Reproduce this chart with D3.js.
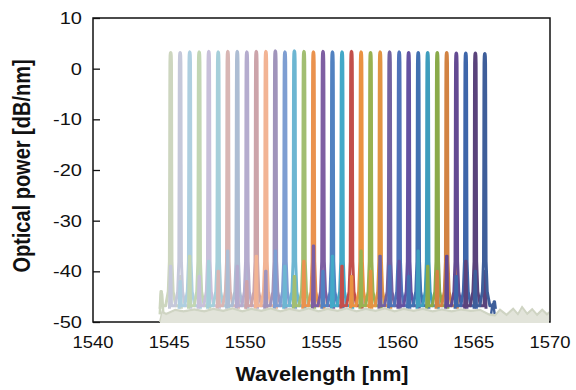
<!DOCTYPE html>
<html>
<head>
<meta charset="utf-8">
<script src="https://cdn.jsdelivr.net/npm/d3@7"></script>
<style>
  body { margin: 0; background: #fff; }
  text { font-family: "Liberation Sans", Arial, sans-serif; fill: #111; }
</style>
</head>
<body>
<div id="chart"></div>
<script>
// channel centre wavelengths [nm]
const centers = [1545.10, 1545.72, 1546.35, 1546.97, 1547.60, 1548.22, 1548.85, 1549.47,
  1550.10, 1550.72, 1551.35, 1551.97, 1552.60, 1553.22, 1553.85, 1554.47, 1555.10,
  1555.72, 1556.35, 1556.97, 1557.60, 1558.22, 1558.85, 1559.47, 1560.10, 1560.72,
  1561.35, 1561.97, 1562.60, 1563.22, 1563.85, 1564.47, 1565.10, 1565.72];
// peak power of each channel [dB/nm]
const peaks = [3.2, 3.2, 3.3, 3.3, 3.4, 3.3, 3.4, 3.4, 3.3, 3.4, 3.4, 3.5, 3.3, 3.5, 3.4, 3.3,
  3.4, 3.3, 3.3, 3.4, 3.3, 3.2, 3.3, 3.3, 3.3, 3.2, 3.2, 3.2, 3.2, 3.2, 3.1, 3.1, 3.1, 3.0];
// series colours, left to right
const colors = ["#cdd6bf", "#c5c8da", "#aecfe0", "#c2d6b4", "#c8c0da", "#a6cfda", "#d8b6b4",
  "#adbdd3", "#b5acce", "#cca4aa", "#f2b494", "#a094bb", "#7e9ed2", "#6db6d2", "#a2be72",
  "#ea924e", "#7e5fa2", "#5282c1", "#43a9c8", "#c24f4b", "#ea9242", "#99b252", "#e39443",
  "#7262a1", "#5073b9", "#6452a1", "#4271b1", "#3e9dbd", "#8aaa4a", "#d28343", "#634a92",
  "#3e66aa", "#5a437b", "#3e5e9a"];
// level of the crosstalk each channel leaves at its neighbours [dB/nm]
const crossLeft = [-44, -39, -42, -37, -41, -38, -40, -36, -39, -42, -37, -40, -36, -39, -41,
  -38, -35, -40, -37, -39, -41, -36, -40, -37, -39, -38, -41, -36, -39, -40, -37, -41, -38, -40];
const crossRight = [-41, -38, -36, -40, -37, -41, -39, -36, -40, -38, -39, -36, -41, -37, -35,
  -40, -39, -36, -41, -38, -40, -39, -36, -41, -38, -40, -39, -37, -40, -36, -41, -39, -40, -46];
// spectral shape of one channel: offset from centre [nm] and level [dB/nm]
// null = crosstalk level, main peak values are relative to the channel peak
const shapeOffset = [-0.70, -0.64, -0.61, -0.57, -0.33, -0.16,
  -0.085, -0.066, -0.058, -0.05, -0.038, -0.02, 0, 0.02, 0.038, 0.05, 0.058, 0.066, 0.085,
  0.16, 0.33, 0.57, 0.61, 0.64, 0.70];
const shapeLevel = [-47.4, null, null, -46.8, -46.8, -44.0,
  -38.0, -22.0, -8.0, -2.0, -0.6, -0.1, 0, -0.1, -0.6, -2.0, -8.0, -22.0, -38.0,
  -44.0, -46.8, -46.8, null, null, -47.4];
const peakPart = [false, false, false, false, false, false,
  false, true, true, true, true, true, true, true, true, true, true, true, false,
  false, false, false, false, false, false];
// noise floor ripple (wavelength, level)
const floorW = [1544.40, 1544.55, 1544.80, 1545.40, 1545.95, 1546.65, 1547.30, 1547.90, 1548.55,
  1549.15, 1549.80, 1550.40, 1551.05, 1551.65, 1552.30, 1552.90, 1553.55, 1554.15, 1554.80,
  1555.40, 1556.05, 1556.65, 1557.30, 1557.90, 1558.55, 1559.15, 1559.80, 1560.40, 1561.05,
  1561.65, 1562.30, 1562.90, 1563.55, 1564.15, 1564.80, 1565.40, 1566.00, 1566.40, 1566.72,
  1567.15, 1567.58, 1567.90, 1568.17, 1568.50, 1568.83, 1569.15, 1569.49, 1569.80, 1570.00];
const floorL = [-50.0, -48.0, -48.4, -47.6, -47.9, -47.5, -47.9, -47.4, -47.8, -47.3, -47.9,
  -47.4, -47.8, -47.3, -47.9, -47.4, -47.8, -47.3, -47.9, -47.4, -47.8, -47.3, -47.9, -47.4,
  -47.8, -47.3, -47.9, -47.4, -47.8, -47.4, -47.9, -47.5, -47.9, -47.5, -47.8, -47.6, -48.5,
  -48.7, -47.6, -48.6, -47.4, -48.5, -47.1, -48.4, -47.5, -48.6, -47.6, -48.5, -48.0];
// small side modes at the band edges
const sideW = [1544.50, 1566.25];
const sideL = [-44.0, -46.3];
const sideColor = ["#cdd6bf", "#3e5e9a"];

const xTicks = [1540, 1545, 1550, 1555, 1560, 1565, 1570];
const yTicks = [10, 0, -10, -20, -30, -40, -50];

const W = 576, H = 390;
const margin = { top: 18, right: 26, bottom: 68, left: 93 };

const svg = d3.select("#chart").append("svg")
  .attr("width", W).attr("height", H);

const x = d3.scaleLinear().domain([1540, 1570]).range([margin.left, W - margin.right]);
const y = d3.scaleLinear().domain([-50, 10]).range([H - margin.bottom, margin.top]);

// frame and axes (under the data, the floor hides part of it)
svg.append("rect")
  .attr("x", margin.left).attr("y", margin.top)
  .attr("width", x.range()[1] - margin.left).attr("height", y.range()[0] - margin.top)
  .attr("fill", "none").attr("stroke", "#111").attr("stroke-width", 1.5);

const yAxis = svg.append("g")
  .attr("transform", `translate(${margin.left},0)`)
  .call(d3.axisRight(y).tickValues(yTicks).tickSize(7).tickFormat(""));
yAxis.select(".domain").remove();
yAxis.selectAll("line").attr("stroke", "#111").attr("stroke-width", 1.3);

svg.append("clipPath").attr("id", "plot")
  .append("rect")
  .attr("x", margin.left + 1).attr("y", margin.top + 1)
  .attr("width", x.range()[1] - margin.left - 2).attr("height", y.range()[0] - margin.top + 1);

const line = d3.line().x(d => x(d[0])).y(d => y(d[1]));
const plot = svg.append("g").attr("clip-path", "url(#plot)");

// noise floor band
const floorPts = floorW.map((w, i) => [w, floorL[i]]);
plot.append("path")
  .attr("d", d3.area().x(d => x(d[0])).y0(y(-50) + 1).y1(d => y(d[1]))(floorPts))
  .attr("fill", "#dde0d3");

// channel spectra
centers.forEach((c, i) => {
  const pts = shapeOffset.map((o, k) => {
    let v = shapeLevel[k];
    if (v === null) v = o < 0 ? crossLeft[i] : crossRight[i];
    else if (peakPart[k]) v = peaks[i] + v;
    return [c + o, v];
  });
  plot.append("path")
    .attr("d", line(pts))
    .attr("fill", "none")
    .attr("stroke", colors[i])
    .attr("stroke-width", 3)
    .attr("stroke-linejoin", "round");
});

// side modes
sideW.forEach((w, i) => {
  const pts = [[w - 0.12, -48.5], [w - 0.04, sideL[i] - 0.5], [w, sideL[i]], [w + 0.04, sideL[i] - 0.5], [w + 0.12, -48.5]];
  plot.append("path")
    .attr("d", line(pts))
    .attr("fill", "none")
    .attr("stroke", sideColor[i])
    .attr("stroke-width", 2.4);
});

// floor ripple edge on top
plot.append("path")
  .attr("d", line(floorPts))
  .attr("fill", "none")
  .attr("stroke", "#cfd4c3")
  .attr("stroke-width", 2.2);
plot.append("path")
  .attr("d", d3.area().x(d => x(d[0])).y0(y(-50) + 1).y1(d => y(d[1]) + 1.5)(floorPts))
  .attr("fill", "#e2e4da");

svg.append("g").selectAll("text")
  .data(yTicks).enter().append("text")
  .attr("transform", d => `translate(82,${y(d) + 6}) scale(1.25,1)`)
  .attr("text-anchor", "end")
  .attr("font-size", 16)
  .text(d => d);

svg.append("g").selectAll("text")
  .data(xTicks).enter().append("text")
  .attr("transform", d => `translate(${x(d)},348) scale(1.15,1)`)
  .attr("text-anchor", "middle")
  .attr("font-size", 16)
  .text(d => d);

svg.append("text")
  .attr("transform", `translate(322,381) scale(1.08,1)`)
  .attr("text-anchor", "middle")
  .attr("font-size", 20)
  .attr("font-weight", "bold")
  .text("Wavelength [nm]");

svg.append("text")
  .attr("transform", `translate(30,166) rotate(-90) scale(1,1.2)`)
  .attr("text-anchor", "middle")
  .attr("font-size", 20)
  .attr("font-weight", "bold")
  .text("Optical power [dB/nm]");
</script>
</body>
</html>
